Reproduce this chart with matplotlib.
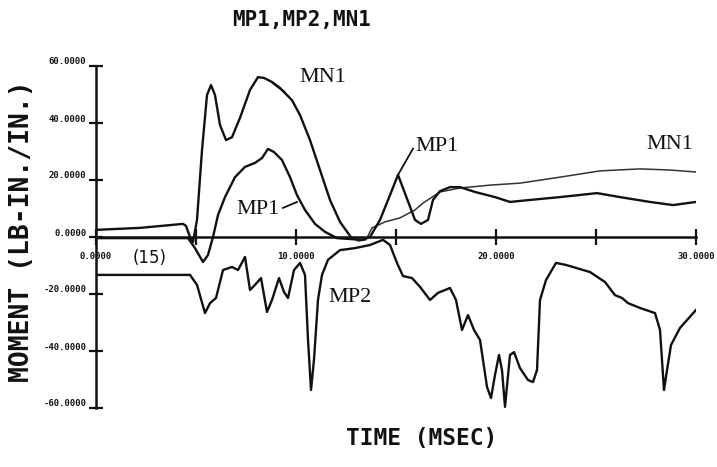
import numpy as np
import matplotlib
matplotlib.use("Agg")
import matplotlib.pyplot as plt
from matplotlib.transforms import ScaledTranslation

# ---- moment histories (time in msec, moment in lb-in./in.) ----
mn1_t = [0.0, 2.2, 4.35, 4.5, 4.7, 4.85, 5.05, 5.3, 5.55, 5.75, 5.95, 6.2, 6.5, 6.8,
         7.2, 7.7, 8.1, 8.4, 8.8, 9.2, 9.8, 10.2, 10.7, 11.2, 11.7, 12.2, 12.7, 13.1,
         13.5, 13.8, 14.45, 15.2, 15.95, 16.35, 17.2, 18.2, 19.7, 21.2, 23.2, 25.2,
         27.2, 28.7, 30.0]
mn1_v = [2.5, 3.2, 4.6, 3.9, 0.0, -1.8, 6.0, 30.5, 49.8, 53.3, 49.8, 39.3, 34.0, 35.0,
         41.8, 51.6, 56.1, 55.8, 54.4, 52.3, 48.0, 42.8, 34.0, 23.5, 13.0, 5.3, 0.4, -1.4,
         -1.0, 3.2, 5.3, 6.7, 9.5, 11.9, 15.8, 17.2, 18.2, 18.9, 21.0, 23.2,
         23.9, 23.5, 22.8]

mp1_t = [0.0, 2.7, 4.6, 4.95, 5.35, 5.6, 5.85, 6.1, 6.45, 6.95, 7.45, 7.95, 8.3, 8.6,
         8.9, 9.3, 9.7, 10.05, 10.45, 10.95, 11.45, 12.05, 12.7, 13.3, 13.7, 14.2, 14.7,
         15.1, 15.95, 16.25, 16.6, 16.85, 17.2, 17.7, 18.2, 18.95, 19.95, 20.7, 21.7,
         23.2, 25.05, 26.2, 27.7, 28.85, 30.0]
mp1_v = [-0.4, -0.4, -0.4, -3.9, -8.8, -6.3, 0.0, 7.7, 14.0, 21.0, 24.6, 26.0, 27.7, 30.9,
         29.8, 27.0, 21.0, 14.7, 9.5, 4.6, 1.8, -0.4, -0.7, -1.0, 0.0, 6.0, 14.7,
         21.8, 6.0, 4.6, 6.0, 13.0, 16.1, 17.5, 17.5, 15.8, 14.0, 12.3, 13.0,
         14.0, 15.4, 14.0, 12.3, 11.2, 12.3]

mp2_t = [0.0, 2.7, 4.7, 5.05, 5.45, 5.7, 6.0, 6.35, 6.8, 7.1, 7.45, 7.7, 7.95, 8.25,
         8.55, 8.8, 9.15, 9.4, 9.6, 9.9, 10.2, 10.45, 10.6, 10.75, 10.9, 11.1, 11.3,
         11.6, 12.2, 12.95, 13.7, 14.35, 14.7, 15.05, 15.35, 15.8, 16.2, 16.7, 17.1,
         17.7, 18.0, 18.3, 18.6, 18.9, 19.2, 19.55, 19.75, 19.95, 20.15, 20.3, 20.45,
         20.7, 20.9, 21.2, 21.6, 21.85, 22.05, 22.2, 22.5, 23.0, 23.5, 24.7, 25.45,
         25.95, 26.3, 26.6, 27.2, 27.95, 28.2, 28.4, 28.55, 28.75, 29.2, 30.0]
mp2_v = [-13.3, -13.3, -13.3, -16.8, -26.7, -23.2, -21.4, -11.6, -10.5, -11.6, -7.0,
         -18.6, -16.8, -14.4, -26.3, -22.1, -14.4, -19.3, -21.4, -11.6, -9.1, -13.3,
         -36.0, -53.7, -43.0, -22.0, -13.3, -8.0, -4.6, -3.9, -2.8, -1.0, -2.8, -9.1,
         -13.7, -14.4, -17.5, -22.1, -19.6, -17.9, -22.1, -32.6, -27.4, -32.6, -36.1,
         -52.6, -56.5, -48.4, -41.4, -46.7, -59.6, -41.4, -40.4, -46.0, -50.2, -50.9,
         -46.7, -22.1, -15.1, -9.1, -9.8, -12.3, -15.8, -20.4, -21.4, -23.2, -24.9,
         -26.7, -32.6, -53.7, -46.7, -37.9, -31.9, -25.6]

y_ticks = [-60, -40, -20, 0, 20, 40, 60]
y_tick_labels = ["-60.0000", "-40.0000", "-20.0000", "0.0000", "20.0000", "40.0000", "60.0000"]
x_ticks = [0, 5, 10, 15, 20, 25, 30]
x_tick_labels = ["0.0000", "", "10.0000", "", "20.0000", "", "30.0000"]

ink = "#111111"
mono = "DejaVu Sans Mono"
serif = "Liberation Serif"

fig = plt.figure(figsize=(7.17, 4.67), dpi=100)
ax = fig.add_axes([96 / 717, 59 / 467, 600 / 717, 342 / 467])
ax.set_xlim(0, 30)
ax.set_ylim(-60, 60)

# curves
mn1_t_a = np.array(mn1_t)
mn1_v_a = np.array(mn1_v)
early = mn1_t_a <= 12.7
late = mn1_t_a >= 12.7
ax.plot(mn1_t_a[early], mn1_v_a[early], color=ink, lw=1.7, solid_joinstyle="round")
ax.plot(mn1_t_a[late], mn1_v_a[late], color="#333333", lw=1.1, solid_joinstyle="round")
ax.plot(mp1_t, mp1_v, color=ink, lw=1.7, solid_joinstyle="round")
ax.plot(mp2_t, mp2_v, color=ink, lw=1.7, solid_joinstyle="round")

# axes through the origin
for side in ("top", "right"):
    ax.spines[side].set_visible(False)
ax.spines["bottom"].set_position(("data", 0))
for side in ("left", "bottom"):
    ax.spines[side].set_linewidth(1.8)
    ax.spines[side].set_color(ink)

ax.set_xticks(x_ticks, x_tick_labels)
ax.set_yticks(y_ticks, y_tick_labels)
ax.tick_params(axis="x", direction="inout", length=11, width=1.6, color=ink, pad=5)
ax.tick_params(axis="y", direction="inout", length=10, width=1.6, color=ink, pad=2)
for lab in ax.get_xticklabels() + ax.get_yticklabels():
    lab.set_fontfamily(mono)
    lab.set_fontweight("bold")
    lab.set_fontsize(6.5)
    lab.set_color(ink)
shift = ScaledTranslation(0, 5 / 100, fig.dpi_scale_trans)
for lab in ax.get_yticklabels():
    lab.set_transform(lab.get_transform() + shift)

# curve labels
lab_kw = dict(family=serif, fontsize=16, color=ink, ha="center", va="center")
ax.text(11.35, 56.0, "MN1", **lab_kw)
ax.text(8.1, 9.5, "MP1", **lab_kw)
ax.text(12.7, -21.4, "MP2", **lab_kw)
ax.text(17.05, 31.6, "MP1", **lab_kw)
ax.text(28.7, 32.3, "MN1", **lab_kw)
ax.text(2.7, -7.4, "(15)", family="DejaVu Sans", fontsize=12, color=ink,
        ha="center", va="center")

# leader strokes from labels to curves
ax.plot([9.35, 10.05], [10.2, 12.3], color=ink, lw=1.3)
ax.plot([15.1, 15.85], [21.8, 31.0], color=ink, lw=1.3)
ax.plot([8.85, 9.4], [54.0, 51.0], color=ink, lw=1.5)

# titles
fig.text(302 / 717, 1 - 20 / 467, "MP1,MP2,MN1", family=mono, fontweight="bold",
         fontsize=15, color=ink, ha="center", va="center")
fig.text(422 / 717, 1 - 438 / 467, "TIME (MSEC)", family=mono, fontweight="bold",
         fontsize=16.5, color=ink, ha="center", va="center")
fig.text(22 / 717, 1 - 231 / 467, "MOMENT (LB-IN./IN.)", family=mono, fontweight="bold",
         fontsize=19, color=ink, ha="center", va="center", rotation=90)

fig.savefig("out.png", dpi=100, facecolor="white")
